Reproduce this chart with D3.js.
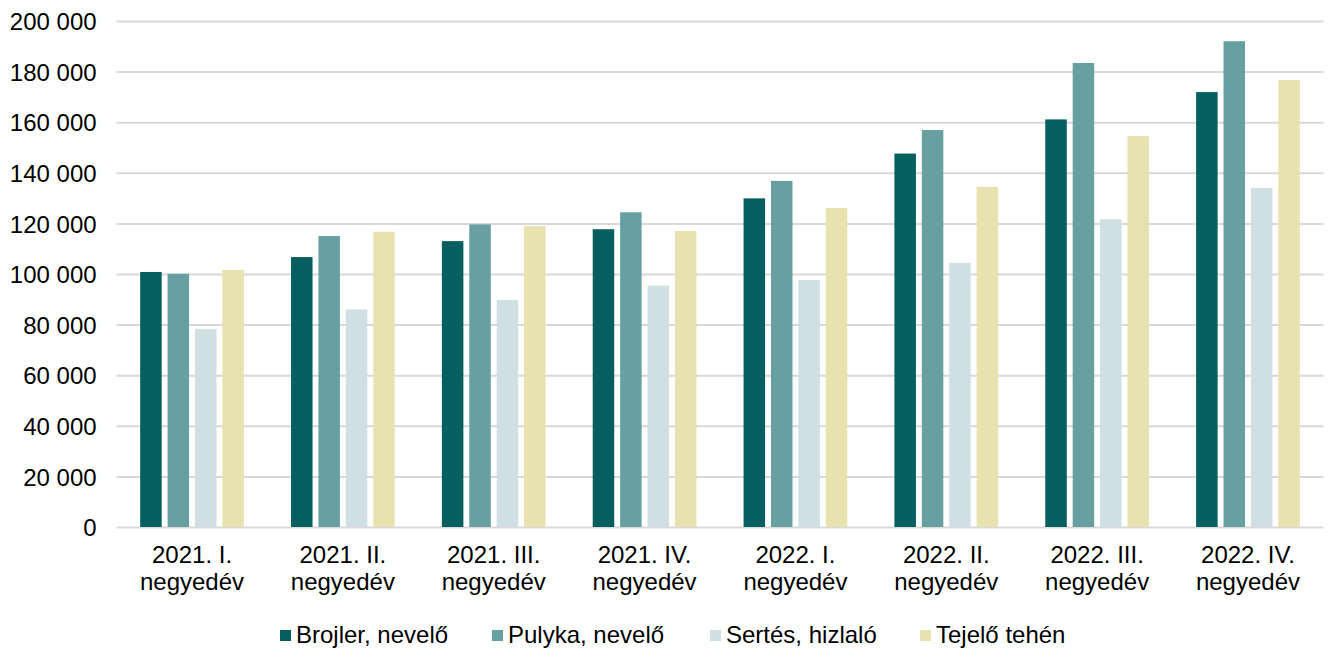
<!DOCTYPE html>
<html><head><meta charset="utf-8">
<script src="https://cdn.jsdelivr.net/npm/d3@7"></script>
<style>body{margin:0;background:#fff;} text{font-family:Arial,"Liberation Sans",sans-serif;fill:#000;}</style>
</head><body>
<svg id="c" width="1331" height="651"></svg>
<script>
const categories = [["2021. I.","negyedév"],["2021. II.","negyedév"],["2021. III.","negyedév"],["2021. IV.","negyedév"],["2022. I.","negyedév"],["2022. II.","negyedév"],["2022. III.","negyedév"],["2022. IV.","negyedév"]];
const seriesNames = ["Brojler, nevelő","Pulyka, nevelő","Sertés, hizlaló","Tejelő tehén"];
const brojler = [100800,106700,113000,117700,129900,147600,161100,171900];
const pulyka  = [100100,115000,119600,124400,136800,156900,183400,192000];
const sertes  = [78300,86000,89700,95400,97600,104300,121600,134000];
const tejelo  = [101600,116700,119000,117000,126100,134400,154500,176700];
const yTicks = [0,20000,40000,60000,80000,100000,120000,140000,160000,180000,200000];
const colors = ["#055f60","#68a0a1","#cfdfe2","#e8e2b1"];
const seriesValues = [brojler,pulyka,sertes,tejelo];

(function(){
const svg = d3.select("#c");
const fs = "24px";
const mLeft = 116.6, mRight = 1323.4, mTop = 21, mBottom = 527;
const y = d3.scaleLinear().domain([0,200000]).range([mBottom, mTop]);
const x0 = d3.scaleBand().domain(d3.range(categories.length)).range([mLeft,mRight]).padding(0);
const bw = x0.bandwidth();
const x1 = d3.scaleBand().domain(d3.range(4)).range([bw/2-54.8, bw/2+54.8]).paddingInner(0.215).paddingOuter(0.1075);

const fmt = v => d3.format(",")(v).replace(/,/g," ");
const yAxis = d3.axisLeft(y).tickValues(yTicks).tickSize(-(mRight-mLeft)).tickFormat(fmt);
const ga = svg.append("g").attr("transform",`translate(${mLeft},0)`).call(yAxis);
ga.select(".domain").remove();
ga.selectAll(".tick line").attr("stroke","#d9d9d9").attr("stroke-width",2);
ga.selectAll(".tick text").style("font-size",fs).attr("x",-20).attr("dy","0.36em").attr("fill","#000");

const g = svg.append("g");
seriesValues.forEach((vals,si)=>{
  g.selectAll(null).data(vals).enter().append("rect")
    .attr("x",(d,i)=>x0(i)+x1(si))
    .attr("width",x1.bandwidth())
    .attr("y",d=>y(d))
    .attr("height",d=>mBottom-y(d))
    .attr("fill",colors[si]);
});

const xl = svg.append("g");
categories.forEach((c,i)=>{
  const cx = x0(i)+bw/2;
  const t = xl.append("text").attr("text-anchor","middle").style("font-size",fs)
    .attr("x",cx).attr("y",563);
  t.append("tspan").attr("x",cx).attr("dy",0).text(c[0]);
  t.append("tspan").attr("x",cx).attr("dy",27).text(c[1]);
});

const legX = [280,492,710,920];
const leg = svg.append("g");
seriesNames.forEach((n,i)=>{
  leg.append("rect").attr("x",legX[i]).attr("y",630).attr("width",11).attr("height",11).attr("fill",colors[i]);
  leg.append("text").attr("x",legX[i]+16).attr("y",643).style("font-size",fs).text(n);
});
})();
</script>
</body></html>
